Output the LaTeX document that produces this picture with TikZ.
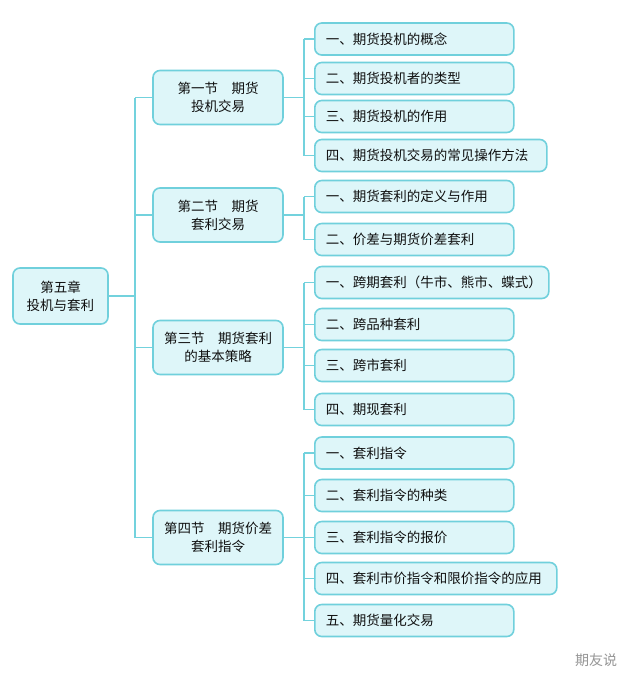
\documentclass[tikz,border=0pt]{standalone}
\usepackage{fontspec}
\setmainfont{Noto Sans CJK SC}
\newfontfamily\cjk{Noto Sans CJK SC}
\definecolor{edgec}{RGB}{112,208,220}
\definecolor{fillc}{RGB}{222,246,249}
\definecolor{linec}{RGB}{115,210,221}
\definecolor{txtc}{RGB}{15,15,15}
\definecolor{wmc}{RGB}{150,150,150}
\tikzset{
  box/.style={draw=edgec, fill=fillc, line width=1.6pt, rounded corners=7pt,
    text=txtc, font=\cjk\fontsize{13.5}{18}\selectfont, inner sep=0pt},
  rootbox/.style={box, minimum width=95pt, minimum height=56pt, align=center},
  secbox/.style={box, minimum width=130pt, minimum height=54pt, align=center},
  leafbox/.style={box, anchor=west, minimum height=32pt, text width=#1, inner xsep=11pt, align=left},
  conn/.style={draw=linec, line width=1.6pt},
}
\begin{document}
\begin{tikzpicture}[x=1pt,y=-1pt]
\useasboundingbox[fill=white] (0,0) rectangle (640,689);

% root
\node[rootbox] (root) at (60.5,296) {第五章\\投机与套利};

% sections
\node[secbox] (s1) at (218,97.5) {第一节\quad 期货\\投机交易};
\node[secbox] (s2) at (218,215) {第二节\quad 期货\\套利交易};
\node[secbox] (s3) at (218,347.5) {第三节\quad 期货套利\\的基本策略};
\node[secbox] (s4) at (218,537.5) {第四节\quad 期货价差\\套利指令};

% leaves section 1
\node[leafbox=177pt] (a1) at (314,39) {一、期货投机的概念};
\node[leafbox=177pt] (a2) at (314,78.5) {二、期货投机者的类型};
\node[leafbox=177pt] (a3) at (314,116.5) {三、期货投机的作用};
\node[leafbox=210pt] (a4) at (314,155.5) {四、期货投机交易的常见操作方法};
% leaves section 2
\node[leafbox=177pt] (b1) at (314,196.5) {一、期货套利的定义与作用};
\node[leafbox=177pt] (b2) at (314,239.5) {二、价差与期货价差套利};
% leaves section 3
\node[leafbox=212pt] (c1) at (314,282.5) {一、跨期套利（牛市、熊市、蝶式）};
\node[leafbox=177pt] (c2) at (314,324.5) {二、跨品种套利};
\node[leafbox=177pt] (c3) at (314,365.5) {三、跨市套利};
\node[leafbox=177pt] (c4) at (314,409.5) {四、期现套利};
% leaves section 4
\node[leafbox=177pt] (d1) at (314,453) {一、套利指令};
\node[leafbox=177pt] (d2) at (314,495.5) {二、套利指令的种类};
\node[leafbox=177pt] (d3) at (314,537.5) {三、套利指令的报价};
\node[leafbox=220pt] (d4) at (314,578.5) {四、套利市价指令和限价指令的应用};
\node[leafbox=177pt] (d5) at (314,620.5) {五、期货量化交易};

% watermark
\node[text=wmc, font=\cjk\fontsize{14}{16}\selectfont, inner sep=0pt] (wm) at (596,660) {期友说};

% root to sections
\coordinate (t1) at (135,97.5);
\coordinate (t4) at (135,537.5);
\draw[conn] (root.east) -- (root.east -| t1);
\draw[conn] (t1) -- (t4);
\foreach \s in {s1,s2,s3,s4} \draw[conn] (\s.west) -- (\s.west -| t1);

% sections to leaves
\foreach \s/\first/\last/\list in {s1/a1/a4/{a1,a2,a3,a4}, s2/b1/b2/{b1,b2}, s3/c1/c4/{c1,c2,c3,c4}, s4/d1/d5/{d1,d2,d3,d4,d5}}{
  \draw[conn] (\s.east) -- ([xshift=-10pt]\s.east -| \first.west);
  \draw[conn] ([xshift=-10pt]\first.west) -- ([xshift=-10pt]\last.west);
  \foreach \l in \list \draw[conn] (\l.west) -- ++(-10,0);
}
\end{tikzpicture}
\end{document}
